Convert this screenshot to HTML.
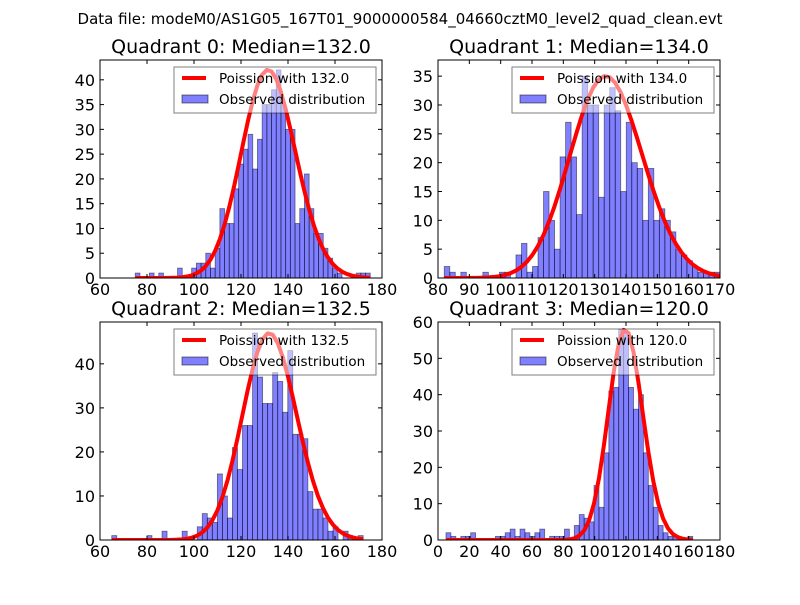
<!DOCTYPE html>
<html><head><meta charset="utf-8"><style>
html,body{margin:0;padding:0;background:#fff;}
svg text{font-family:"DejaVu Sans","Liberation Sans",sans-serif;}
</style></head><body>
<svg id="fig" width="800" height="600" viewBox="0 0 800 600" xmlns="http://www.w3.org/2000/svg">
<rect width="800" height="600" fill="#fff"/>
<text x="400" y="24" text-anchor="middle" font-size="15">Data file: modeM0/AS1G05_167T01_9000000584_04660cztM0_level2_quad_clean.evt</text>
</svg>
<script>
const q0Counts=[1,0,0,1,0,1,0,0,0,2, 0,0,2,3,3,5,2,6,14,11, 11,18,23,26,29,22,28,35,35,38, 42,35,30,30,11,14,21,14,9,9, 6,4,2,1,0,0,0,1,1,1];
const q1Counts=[2,1,0,1,0,0,0,1,0,0, 1,1,0,4,6,1,2,7,15,10, 5,21,27,21,11,35,30,30,14,30, 33,29,15,27,20,19,10,19,10,12, 10,8,5,4,3,2,1,1,1,1];
const q2Counts=[1,0,0,0,0,0,0,1,0,0, 2,0,0,0,2,0,0,3,6,5, 4,15,10,5,21,16,26,26,47,37, 31,31,38,36,29,43,24,24,23,11, 7,7,5,2,3,0,2,1,0,1];
const q3Counts=[2,1,0,1,1,2,0,0,0,0, 1,1,2,3,1,3,2,1,2,3, 0,1,1,1,3,0,4,7,6,5, 15,9,24,41,42,58,57,42,36,40, 24,15,9,4,2,1,1,0,0,1];
const binStarts=[75,82,65,5.1];
const binWidths=[2,1.76,2.14,3.15];
const medians=[132.0,134.0,132.5,120.0];
const titles=["Quadrant 0: Median=132.0","Quadrant 1: Median=134.0","Quadrant 2: Median=132.5","Quadrant 3: Median=120.0"];
const xTicks=[[60,80,100,120,140,160,180],[80,90,100,110,120,130,140,150,160,170],[60,80,100,120,140,160,180],[0,20,40,60,80,100,120,140,160,180]];
const yTicks=[[0,5,10,15,20,25,30,35,40],[0,5,10,15,20,25,30,35],[0,10,20,30,40],[0,10,20,30,40,50,60]];
const xLims=[[60,180],[80,170],[60,180],[0,180]];
const yMaxes=[44,37.8,49.5,60];
const allCounts=[q0Counts,q1Counts,q2Counts,q3Counts];

const NS="http://www.w3.org/2000/svg";
const svg=document.getElementById('fig');
function mk(tag,attrs,parent){const e=document.createElementNS(NS,tag);for(const k in attrs)e.setAttribute(k,attrs[k]);(parent||svg).appendChild(e);return e;}
function lgamma(z){const g=7,c=[0.99999999999980993,676.5203681218851,-1259.1392167224028,771.32342877765313,-176.61502916214059,12.507343278686905,-0.13857109526572012,9.9843695780195716e-6,1.5056327351493116e-7];z-=1;let x=c[0];for(let i=1;i<g+2;i++)x+=c[i]/(z+i);const t=z+g+0.5;return 0.5*Math.log(2*Math.PI)+(z+0.5)*Math.log(t)-t+Math.log(x);}
function pmf(k,mu){return Math.exp(k*Math.log(mu)-mu-lgamma(k+1));}

const boxes=[[100,382,60,278],[438,720,60,278],[100,382,322,540],[438,720,322,540]];
for(let p=0;p<4;p++){
  const [X0,X1,Y0,Y1]=boxes[p];
  const xs=v=>X0+(v-xLims[p][0])/(xLims[p][1]-xLims[p][0])*(X1-X0);
  const ys=v=>Y1-v/yMaxes[p]*(Y1-Y0);
  const g=mk('g',{});
  
  
  const t=mk('text',{x:(X0+X1)/2,y:Y0-7,'text-anchor':'middle','font-size':'19'},g);
  t.textContent=titles[p];
  
  
  const counts=allCounts[p];
  const clip=mk('clipPath',{id:'c'+p},g);mk('rect',{x:X0,y:Y0,width:X1-X0,height:Y1-Y0},clip);
  const plot=mk('g',{'clip-path':'url(#c'+p+')'},g);
  counts.forEach((c,i)=>{
    const a=binStarts[p]+i*binWidths[p],b=a+binWidths[p];
    if(c<=0)return;
    const r=mk('rect',{x:xs(a),y:ys(c),width:xs(b)-xs(a),height:ys(0)-ys(c),fill:'rgba(0,0,255,0.5)',stroke:'rgba(0,0,0,0.5)','stroke-width':'0.8'},plot);
    
    
  });
  const maxC=Math.max(...counts);
  const mu=medians[p];
  const pk=pmf(Math.floor(mu),mu);
  let d='';
  for(let i=0;i<=counts.length;i++){
    const k=binStarts[p]+i*binWidths[p];
    const v=pmf(k,mu)/pk*maxC;
    d+=(i?'L':'M')+xs(k).toFixed(2)+','+ys(v).toFixed(2);
  }
  const ln=mk('path',{d:d,fill:'none',stroke:'#ff0000','stroke-width':'4','stroke-linejoin':'round'},plot);
  
  
  // ticks
  xTicks[p].forEach(v=>{
    const x=xs(v);
    mk('line',{x1:x,y1:Y1,x2:x,y2:Y1-4,stroke:'#000'},g);
    mk('line',{x1:x,y1:Y0,x2:x,y2:Y0+4,stroke:'#000'},g);
    const tl=mk('text',{x:x,y:Y1+17,'text-anchor':'middle','font-size':'16'},g);
    tl.textContent=v;
    
    
  });
  yTicks[p].forEach(v=>{
    const y=ys(v);
    mk('line',{x1:X0,y1:y,x2:X0+4,y2:y,stroke:'#000'},g);
    mk('line',{x1:X1,y1:y,x2:X1-4,y2:y,stroke:'#000'},g);
    const tl=mk('text',{x:X0-5,y:y+6,'text-anchor':'end','font-size':'16'},g);
    tl.textContent=v;
    
    
  });
  const fr=mk('rect',{x:X0,y:Y0,width:X1-X0,height:Y1-Y0,fill:'none',stroke:'#000','stroke-width':'1'},g);
  
  
  // legend
  const lx=X1-208,ly=Y0+7;
  const lg=mk('g',{},g);
  
  
  mk('rect',{x:lx,y:ly,width:202,height:46,fill:'rgba(255,255,255,0.5)',stroke:'rgba(0,0,0,0.5)','stroke-width':'1'},lg);
  mk('line',{x1:lx+8,y1:ly+11,x2:lx+32,y2:ly+11,stroke:'#ff0000','stroke-width':'4'},lg);
  const t1=mk('text',{x:lx+45,y:ly+16,'font-size':'13.5'},lg);
  t1.textContent='Poission with '+mu.toFixed(1);
  
  
  mk('rect',{x:lx+8,y:ly+28,width:26,height:8,fill:'rgba(0,0,255,0.5)',stroke:'rgba(0,0,0,0.5)'},lg);
  const t2=mk('text',{x:lx+45,y:ly+37,'font-size':'13.5'},lg);
  t2.textContent='Observed distribution';
  
  
}
</script>
</body></html>
